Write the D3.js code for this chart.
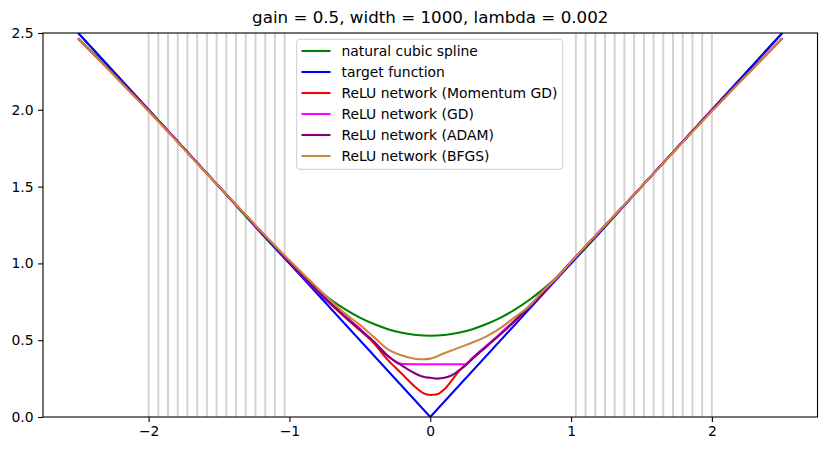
<!DOCTYPE html>
<html>
<head>
<meta charset="utf-8">
<script src="https://cdn.jsdelivr.net/npm/d3@7"></script>
<style>
  html, body { margin: 0; padding: 0; background: #fff; }
  svg { display: block; font-family: "DejaVu Sans", sans-serif; }
</style>
</head>
<body>
<svg id="chart" width="826" height="451"></svg>
<script>
// ---------- data ----------
const title = "gain = 0.5, width = 1000, lambda = 0.002";
const xTicks = [-2, -1, 0, 1, 2];
const yTicks = [0.0, 0.5, 1.0, 1.5, 2.0, 2.5];

// training sample locations (vertical gray lines)
const samplesX = [-2.0, -1.931, -1.862, -1.793, -1.724, -1.655, -1.586, -1.517, -1.448, -1.379, -1.310, -1.241, -1.172, -1.103, -1.034,
                  1.034, 1.103, 1.172, 1.241, 1.310, 1.379, 1.448, 1.517, 1.586, 1.655, 1.724, 1.793, 1.862, 1.931, 2.0];

// target function
const targetX = [-2.5, 0, 2.5];
const targetY = [2.5, 0, 2.5];

// natural cubic spline
const splineX = [-2.5, -2.0, -1.5, -1.034, -0.9, -0.8, -0.7, -0.6, -0.5, -0.4, -0.3, -0.2, -0.1, 0, 0.1, 0.2, 0.3, 0.4, 0.5, 0.6, 0.7, 0.8, 0.9, 1.034, 1.5, 2.0, 2.5];
const splineY = [2.5, 2.0, 1.5, 1.034, 0.912, 0.831, 0.760, 0.699, 0.647, 0.605, 0.572, 0.548, 0.534, 0.529, 0.534, 0.548, 0.572, 0.605, 0.647, 0.699, 0.760, 0.831, 0.912, 1.034, 1.5, 2.0, 2.5];

// ReLU network (Momentum GD)
const momX = [-2.5, -2.0, -1.5, -1.0, -0.8, -0.6, -0.5, -0.4, -0.3, -0.2, -0.1, -0.05, 0, 0.05, 0.1, 0.15, 0.2, 0.3, 0.4, 0.5, 0.6, 0.8, 1.0, 1.5, 2.0, 2.5];
const momY = [2.465, 1.995, 1.5, 1.01, 0.815, 0.645, 0.565, 0.48, 0.37, 0.28, 0.19, 0.155, 0.143, 0.148, 0.18, 0.235, 0.295, 0.38, 0.46, 0.54, 0.625, 0.81, 1.01, 1.5, 1.995, 2.465];

// ReLU network (GD)
const gdX = [-2.5, -2.0, -1.5, -1.0, -0.8, -0.6, -0.5, -0.4, -0.3, -0.24, -0.2, 0, 0.25, 0.3, 0.4, 0.5, 0.6, 0.8, 1.0, 1.5, 2.0, 2.5];
const gdY = [2.465, 1.995, 1.5, 1.01, 0.82, 0.655, 0.575, 0.49, 0.40, 0.355, 0.345, 0.343, 0.343, 0.385, 0.465, 0.545, 0.63, 0.81, 1.01, 1.5, 1.995, 2.465];

// ReLU network (ADAM)
const adamX = [-2.5, -2.0, -1.5, -1.0, -0.8, -0.6, -0.5, -0.4, -0.3, -0.2, -0.15, -0.1, -0.05, 0, 0.05, 0.1, 0.15, 0.2, 0.25, 0.3, 0.4, 0.5, 0.6, 0.8, 1.0, 1.5, 2.0, 2.5];
const adamY = [2.465, 1.995, 1.5, 1.01, 0.82, 0.65, 0.57, 0.49, 0.395, 0.335, 0.305, 0.28, 0.262, 0.255, 0.25, 0.255, 0.27, 0.30, 0.335, 0.38, 0.46, 0.54, 0.625, 0.81, 1.01, 1.5, 1.995, 2.465];

// ReLU network (BFGS)
const bfgsX = [-2.5, -2.0, -1.5, -1.0, -0.8, -0.6, -0.5, -0.4, -0.3, -0.2, -0.1, -0.05, 0, 0.1, 0.2, 0.3, 0.4, 0.5, 0.6, 0.7, 0.8, 0.9, 1.0, 1.5, 2.0, 2.5];
const bfgsY = [2.465, 1.99, 1.5, 1.02, 0.84, 0.67, 0.60, 0.52, 0.44, 0.40, 0.378, 0.376, 0.38, 0.415, 0.45, 0.485, 0.525, 0.58, 0.65, 0.72, 0.82, 0.91, 1.01, 1.5, 1.99, 2.465];

const seriesNames = ["natural cubic spline", "target function", "ReLU network (Momentum GD)", "ReLU network (GD)", "ReLU network (ADAM)", "ReLU network (BFGS)"];
const seriesColors = ["#008000", "#0000ff", "#ff0000", "#ff00ff", "#800080", "#cd853f"];

// ---------- layout ----------
const svg = d3.select("#chart");
const L = 43, R = 817.5, T = 33, B = 417;
const x = d3.scaleLinear().domain([-2.75, 2.75]).range([L, R]);
const y = d3.scaleLinear().domain([0, 2.5]).range([B, T]);

svg.append("defs").append("clipPath").attr("id", "clip")
  .append("rect").attr("x", L).attr("y", T).attr("width", R - L).attr("height", B - T);

const plot = svg.append("g").attr("clip-path", "url(#clip)");

// sample lines
plot.selectAll("line.sample").data(samplesX).join("line")
  .attr("class", "sample")
  .attr("x1", d => x(d)).attr("x2", d => x(d))
  .attr("y1", T).attr("y2", B)
  .attr("stroke", "#d3d3d3").attr("stroke-width", 2);

const series = [
  [splineX, splineY], [targetX, targetY], [momX, momY], [gdX, gdY], [adamX, adamY], [bfgsX, bfgsY]
];

series.forEach((s, i) => {
  const pts = s[0].map((xv, j) => [xv, s[1][j]]);
  const line = d3.line().x(d => x(d[0])).y(d => y(d[1]))
    .curve(i === 1 ? d3.curveLinear : d3.curveMonotoneX);
  plot.append("path").datum(pts)
    .attr("d", line).attr("fill", "none")
    .attr("stroke", seriesColors[i]).attr("stroke-width", 2.08)
    .attr("stroke-linejoin", "round").attr("stroke-linecap", "butt");
});

// axes
const fmtMinus = v => (v < 0 ? "\u2212" + Math.abs(v) : String(v));
const xAxis = d3.axisBottom(x).tickValues(xTicks).tickSize(4.9).tickPadding(4.5).tickFormat(fmtMinus);
const yAxis = d3.axisLeft(y).tickValues(yTicks).tickSize(4.9).tickPadding(4.5).tickFormat(d3.format(".1f"));

const gx = svg.append("g").attr("transform", `translate(0,${B})`).call(xAxis);
const gy = svg.append("g").attr("transform", `translate(${L},0)`).call(yAxis);
[gx, gy].forEach(g => {
  g.select(".domain").remove();
  g.selectAll(".tick line").attr("stroke", "#000").attr("stroke-width", 1.1);
  g.selectAll(".tick text").attr("fill", "#000").style("font-size", "13.9px").style("font-family", "DejaVu Sans");
});

// spines
svg.append("rect").attr("x", L).attr("y", T).attr("width", R - L).attr("height", B - T)
  .attr("fill", "none").attr("stroke", "#000").attr("stroke-width", 1.1);

// title
svg.append("text").attr("x", (L + R) / 2).attr("y", 23)
  .attr("text-anchor", "middle").style("font-size", "16.7px").style("font-family", "DejaVu Sans")
  .attr("fill", "#000").text(title);

// legend
const lg = svg.append("g");
lg.append("rect").attr("x", 296.7).attr("y", 39.3).attr("width", 266).attr("height", 130)
  .attr("rx", 3).attr("fill", "#fff").attr("fill-opacity", 0.8)
  .attr("stroke", "#cccccc").attr("stroke-width", 1);
seriesNames.forEach((name, i) => {
  const cy = 51 + i * 21;
  lg.append("line").attr("x1", 301.5).attr("x2", 330.5).attr("y1", cy).attr("y2", cy)
    .attr("stroke", seriesColors[i]).attr("stroke-width", 2.08);
  lg.append("text").attr("x", 341.5).attr("y", cy).attr("dy", "0.36em")
    .style("font-size", "13.9px").style("font-family", "DejaVu Sans").attr("fill", "#000").text(name);
});
</script>
</body>
</html>
